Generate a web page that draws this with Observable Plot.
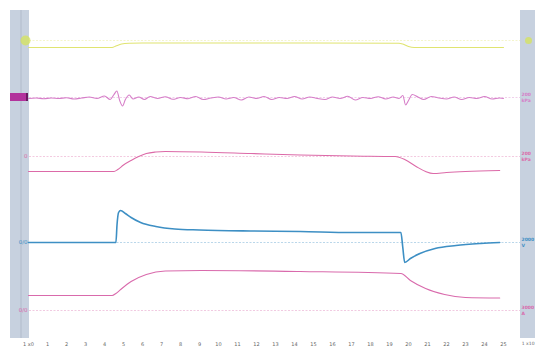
<!DOCTYPE html>
<html><head><meta charset="utf-8">
<script src="https://cdn.jsdelivr.net/npm/d3@7"></script>
<script src="https://cdn.jsdelivr.net/npm/@observablehq/plot@0.6"></script>
<style>
html,body{margin:0;padding:0;background:#fff;}
#chart svg{display:block;font-family:"DejaVu Sans",sans-serif;}
</style></head>
<body><div id="chart"></div>
<script>
// time axis ticks (s)
const tickValues = [0,1,2,3,4,5,6,7,8,9,10,11,12,13,14,15,16,17,18,19,20,21,22,23,24,25];
const tickLabels = ["1 x0","1","2","3","4","5","6","7","8","9","10","11","12","13","14","15","16","17","18","19","20","21","22","23","24","25"];

// channel reference levels (divisions) and labels
const channelNames = ["CH1","CH2","CH3","CH4","CH5"];
const channelRefs = [30.8, 25.1, 19.2, 10.6, 3.8];
const channelColors = ["#e0e470","#d67ec8","#dc6aa8","#3d8fc4","#d96aac"];
const leftLabels = ["", "", "0", "0/0", "0/0"];
const rightLabels = [["",""],["200","kPa"],["200","kPa"],["2000","V"],["3000","A"]];

// CH1 (yellow)
const ch1T = [0, 4.4, 4.6, 4.9, 5.3, 6, 10, 15, 19.5, 19.7, 20.0, 20.3, 25];
const ch1V = [-0.7, -0.7, -0.55, -0.35, -0.28, -0.25, -0.25, -0.25, -0.27, -0.35, -0.6, -0.7, -0.7];

// CH2 (magenta, noisy)
const ch2T = [0,0.4,0.8,1.2,1.6,2.0,2.4,2.8,3.2,3.6,4.0,4.3,4.5,4.65,4.8,4.95,5.1,5.3,5.5,5.8,
  6.1,6.4,6.8,7.2,7.6,8.0,8.4,8.8,9.2,9.6,10,10.4,10.8,11.2,11.6,12,12.4,12.8,13.2,13.6,
  14,14.4,14.8,15.2,15.6,16,16.4,16.8,17.2,17.6,18,18.4,18.8,19.2,19.5,19.7,19.85,20.0,20.2,20.5,
  20.8,21.2,21.6,22,22.4,22.8,23.2,23.6,24,24.4,24.8,25];
const ch2V = [-0.1,-0.05,-0.12,-0.05,-0.1,-0.02,-0.15,-0.05,0.05,-0.1,0.15,-0.2,0.3,0.65,-0.3,-0.85,-0.2,0.25,-0.15,0.05,
  -0.2,0.1,-0.1,0.08,-0.18,0.0,-0.12,0.1,-0.2,-0.05,0.05,-0.15,0.0,-0.25,0.05,-0.1,0.1,-0.2,0.0,-0.1,
  0.1,-0.15,0.05,-0.1,-0.2,0.05,-0.1,0.12,-0.25,0.0,-0.1,0.08,-0.15,0.05,-0.1,0.2,-0.75,-0.3,0.3,0.05,
  -0.2,0.1,-0.05,-0.15,0.05,-0.2,0.0,-0.1,0.1,-0.15,-0.05,-0.1];

// CH3 (pink)
const ch3T = [0, 4.5, 4.7, 5.0, 5.4, 5.8, 6.2, 6.7, 7.2, 9.1, 11.7, 14.3, 17, 19.3, 19.8, 20.4, 20.9, 21.3, 22, 23, 24.8];
const ch3V = [-1.5, -1.5, -1.3, -0.85, -0.4, 0.0, 0.3, 0.45, 0.5, 0.45, 0.3, 0.15, 0.05, 0.0, -0.3, -1.0, -1.5, -1.7, -1.6, -1.5, -1.4];

// CH4 (blue)
const ch4T = [0, 4.6, 4.66, 4.74, 4.85, 5.1, 5.4, 5.9, 6.7, 7.7, 9, 11.7, 14.3, 17, 19.6, 19.7, 19.8, 20.1, 20.6, 21.4, 22.5, 23.8, 24.8];
const ch4V = [0, 0, 1.8, 3.0, 3.2, 2.9, 2.5, 2.0, 1.6, 1.35, 1.25, 1.15, 1.1, 1.0, 1.0, -0.5, -2.0, -1.6, -1.1, -0.6, -0.3, -0.1, 0.0];

// CH5 (pink)
const ch5T = [0, 4.4, 4.6, 4.85, 5.4, 6.2, 7.2, 9.1, 14.3, 19.6, 20.1, 20.9, 21.9, 23, 24.8];
const ch5V = [1.5, 1.5, 1.7, 2.1, 2.9, 3.6, 3.95, 4.0, 3.9, 3.7, 3.0, 2.2, 1.6, 1.3, 1.25];

const series = [[ch1T,ch1V],[ch2T,ch2V],[ch3T,ch3V],[ch4T,ch4V],[ch5T,ch5V]];
const traces = [];
series.forEach(([T,V],i)=>T.forEach((t,j)=>traces.push({ch:channelNames[i], t, y: channelRefs[i]+V[j]})));

const refs = channelNames.map((c,i)=>({ch:c, y:channelRefs[i], color:channelColors[i], left:leftLabels[i], r1:rightLabels[i][0], r2:rightLabels[i][1]}));
const ticks = tickValues.map((t,i)=>({t, label:tickLabels[i]}));

const xMin = -28/19, xMax = 507/19;
const stripL = [{x1:-18/19, x2:1/19}];
const stripR = [{x1:492/19, x2:xMax}];
const colorOf = Object.fromEntries(channelNames.map((c,i)=>[c,channelColors[i]]));

const chart = Plot.plot({
  width: 535, height: 348,
  marginTop: 0, marginBottom: 0, marginLeft: 0, marginRight: 0,
  x: {domain:[xMin, xMax], axis: null},
  y: {domain:[0, 34.8], axis: null},
  marks: [
    Plot.rect(stripL, {x1:"x1", x2:"x2", y1:1.0, y2:33.8, fill:"#c7d1df"}),
    Plot.rect([{x1:-8/19,x2:-6/19}], {x1:"x1", x2:"x2", y1:1.0, y2:33.8, fill:"#bcc6d5"}),
    Plot.rect(stripR, {x1:"x1", x2:"x2", y1:1.0, y2:33.8, fill:"#c7d1df"}),
    // reference lines
    Plot.ruleY(refs, {y:"y", x1:1/19, x2:492/19, stroke:"color", strokeOpacity:0.45, strokeWidth:0.8, strokeDasharray:"2,1.5"}),
    // markers on strips
    Plot.dot([refs[0]], {x:-3/19, y:"y", r:5, fill:"#d5e35a", fillOpacity:0.75}),
    Plot.dot([refs[0]], {x:500/19, y:"y", r:3.5, fill:"#d5e35a", fillOpacity:0.75}),
    Plot.rect([refs[1]], {x1:-18/19, x2:-1/19, y1:d=>d.y-0.4, y2:d=>d.y+0.4, fill:"#b2339c"}),
    Plot.rect([refs[1]], {x1:-2/19, x2:0, y1:d=>d.y-0.4, y2:d=>d.y+0.4, fill:"#6a1a60"}),
    // traces
    Plot.line(traces, {x:"t", y:"y", z:"ch", stroke:d=>colorOf[d.ch], strokeWidth:d=>d.ch==="CH4"?1.6:1.1, curve:"monotone-x"}),
    // left labels
    Plot.text(refs, {x:-1/19, y:"y", text:"left", fill:"color", fontSize:5.5, textAnchor:"end"}),
    // right labels
    Plot.text(refs, {x:493/19, y:d=>d.y+0.3, text:"r1", fill:"color", fontSize:4.5, textAnchor:"start", fontWeight:"bold"}),
    Plot.text(refs, {x:493/19, y:d=>d.y-0.3, text:"r2", fill:"color", fontSize:4.5, textAnchor:"start", fontWeight:"bold"}),
    // time ticks
    Plot.text(ticks, {x:"t", y:0.45, text:"label", fill:"#666", fontSize:5}),
    Plot.text(["1 x10"], {x:506/19, y:0.45, text:d=>d, fill:"#666", fontSize:4.5, textAnchor:"end"})
  ]
});
document.getElementById("chart").appendChild(chart);
</script></body></html>
